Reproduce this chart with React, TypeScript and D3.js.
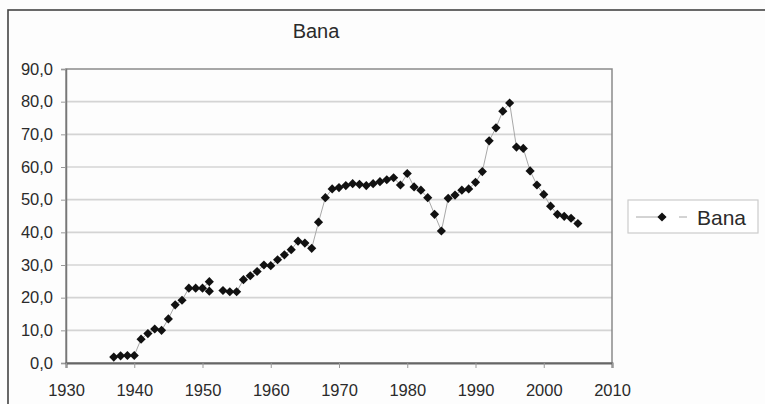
import React, { useEffect, useRef } from "react";
import * as d3 from "d3";

const years = [
  1937, 1938, 1939, 1940, 1941, 1942, 1943, 1944, 1945, 1946, 1947, 1948, 1949,
  1950, 1951, 1951, 1952, 1953, 1954, 1955, 1956, 1957, 1958, 1959, 1960, 1961,
  1962, 1963, 1964, 1965, 1966, 1967, 1968, 1969, 1970, 1971, 1972, 1973, 1974,
  1975, 1976, 1977, 1978, 1979, 1980, 1981, 1982, 1983, 1984, 1985, 1986, 1987,
  1988, 1989, 1990, 1991, 1992, 1993, 1994, 1995, 1996, 1997, 1998, 1999, 2000,
  2001, 2002, 2003, 2004, 2005,
];
const values: (number | null)[] = [
  1.8, 2.2, 2.3, 2.3, 7.3, 9.0, 10.4, 10.0, 13.5, 17.8, 19.2, 22.9, 22.9,
  22.9, 24.9, 22.0, null, 22.2, 21.8, 21.8, 25.5, 26.7, 28.0, 30.0, 29.8, 31.6,
  33.1, 34.7, 37.3, 36.7, 35.1, 43.1, 50.6, 53.3, 53.7, 54.3, 54.9, 54.7, 54.3,
  54.9, 55.5, 56.1, 56.7, 54.5, 58.0, 53.9, 52.9, 50.6, 45.5, 40.4, 50.4, 51.4,
  52.9, 53.3, 55.3, 58.6, 68.0, 72.0, 77.1, 79.6, 66.1, 65.7, 58.8, 54.5, 51.6,
  48.0, 45.5, 44.9, 44.3, 42.7,
];
const yTicks = [0, 10, 20, 30, 40, 50, 60, 70, 80, 90];
const xTicks = [1930, 1940, 1950, 1960, 1970, 1980, 1990, 2000, 2010];
const seriesName = "Bana";

const App: React.FC = () => {
  const svgRef = useRef<SVGSVGElement>(null);

  useEffect(() => {
    if (!svgRef.current) return;
    const width = 765;
    const height = 404;
    const plot = { left: 66, right: 612, top: 69, bottom: 363 };
    const font = "'Liberation Sans', Arial, sans-serif";
    const textColor = "#2b2b2b";

    const svg = d3.select(svgRef.current);
    svg.selectAll("*").remove();
    svg.attr("width", width).attr("height", height);

    svg.append("rect").attr("width", width).attr("height", height).attr("fill", "#fdfdfd");

    // outer chart frame, runs off the picture at right and bottom
    svg
      .append("rect")
      .attr("x", 8)
      .attr("y", 10)
      .attr("width", 770)
      .attr("height", 410)
      .attr("fill", "none")
      .attr("stroke", "#444")
      .attr("stroke-width", 1.6);

    const x = d3.scaleLinear().domain([1930, 2010]).range([plot.left, plot.right]);
    const y = d3.scaleLinear().domain([0, 90]).range([plot.bottom, plot.top]);

    // grid lines
    svg
      .append("g")
      .selectAll("line")
      .data(yTicks.filter((t) => t > 0 && t < 90))
      .join("line")
      .attr("x1", plot.left)
      .attr("x2", plot.right)
      .attr("y1", (d) => y(d))
      .attr("y2", (d) => y(d))
      .attr("stroke", "#d4d4d4")
      .attr("stroke-width", 1.6);

    // plot area border
    svg
      .append("rect")
      .attr("x", plot.left)
      .attr("y", plot.top)
      .attr("width", plot.right - plot.left)
      .attr("height", plot.bottom - plot.top)
      .attr("fill", "none")
      .attr("stroke", "#8a8a8a")
      .attr("stroke-width", 1.5);

    const yAxis = svg
      .append("g")
      .attr("transform", `translate(${plot.left},0)`)
      .call(
        d3
          .axisLeft(y)
          .tickValues(yTicks)
          .tickSize(5)
          .tickPadding(8)
          .tickFormat((d) => d3.format(".1f")(d as number).replace(".", ","))
      );
    yAxis.select(".domain").attr("stroke", "#777").attr("stroke-width", 1.5);
    yAxis.selectAll(".tick line").attr("stroke", "#999");
    yAxis
      .selectAll("text")
      .attr("font-family", font)
      .attr("font-size", 16.5)
      .attr("fill", textColor);

    const xAxis = svg
      .append("g")
      .attr("transform", `translate(0,${plot.bottom})`)
      .call(d3.axisBottom(x).tickValues(xTicks).tickSize(5).tickPadding(16).tickFormat(d3.format("d")));
    xAxis.select(".domain").attr("stroke", "#666").attr("stroke-width", 2);
    xAxis.selectAll(".tick line").attr("stroke", "#999");
    xAxis
      .selectAll("text")
      .attr("font-family", font)
      .attr("font-size", 16.5)
      .attr("fill", textColor);

    const data = years.map((yr, i) => ({ year: yr, value: values[i] }));

    const line = d3
      .line<{ year: number; value: number | null }>()
      .defined((d) => d.value !== null)
      .x((d) => x(d.year))
      .y((d) => y(d.value as number));

    svg
      .append("path")
      .datum(data)
      .attr("fill", "none")
      .attr("stroke", "#a8a8a8")
      .attr("stroke-width", 1)
      .attr("d", line);

    const marker = d3.symbol().type(d3.symbolSquare).size(42)();
    svg
      .append("g")
      .selectAll("path")
      .data(data.filter((d) => d.value !== null))
      .join("path")
      .attr("transform", (d) => `translate(${x(d.year)},${y(d.value as number)}) rotate(45)`)
      .attr("d", marker)
      .attr("fill", "#111");

    // title
    svg
      .append("text")
      .attr("x", 316)
      .attr("y", 38)
      .attr("text-anchor", "middle")
      .attr("font-family", font)
      .attr("font-size", 20)
      .attr("fill", textColor)
      .text(seriesName);

    // legend
    const lg = svg.append("g");
    lg.append("rect")
      .attr("x", 628)
      .attr("y", 200)
      .attr("width", 130)
      .attr("height", 33)
      .attr("fill", "#fff")
      .attr("stroke", "#ccc")
      .attr("stroke-width", 1.2);
    lg.append("line")
      .attr("x1", 636)
      .attr("x2", 690)
      .attr("y1", 217)
      .attr("y2", 217)
      .attr("stroke", "#a8a8a8")
      .attr("stroke-width", 1)
      .attr("stroke-dasharray", "30,13,8,50");
    lg.append("path")
      .attr("transform", "translate(662,217) rotate(45)")
      .attr("d", marker)
      .attr("fill", "#111");
    lg.append("text")
      .attr("x", 697)
      .attr("y", 225)
      .attr("font-family", font)
      .attr("font-size", 21)
      .attr("fill", textColor)
      .text(seriesName);
  }, []);

  return <svg ref={svgRef} style={{ position: "absolute", left: 0, top: 0 }} />;
};

export default App;
